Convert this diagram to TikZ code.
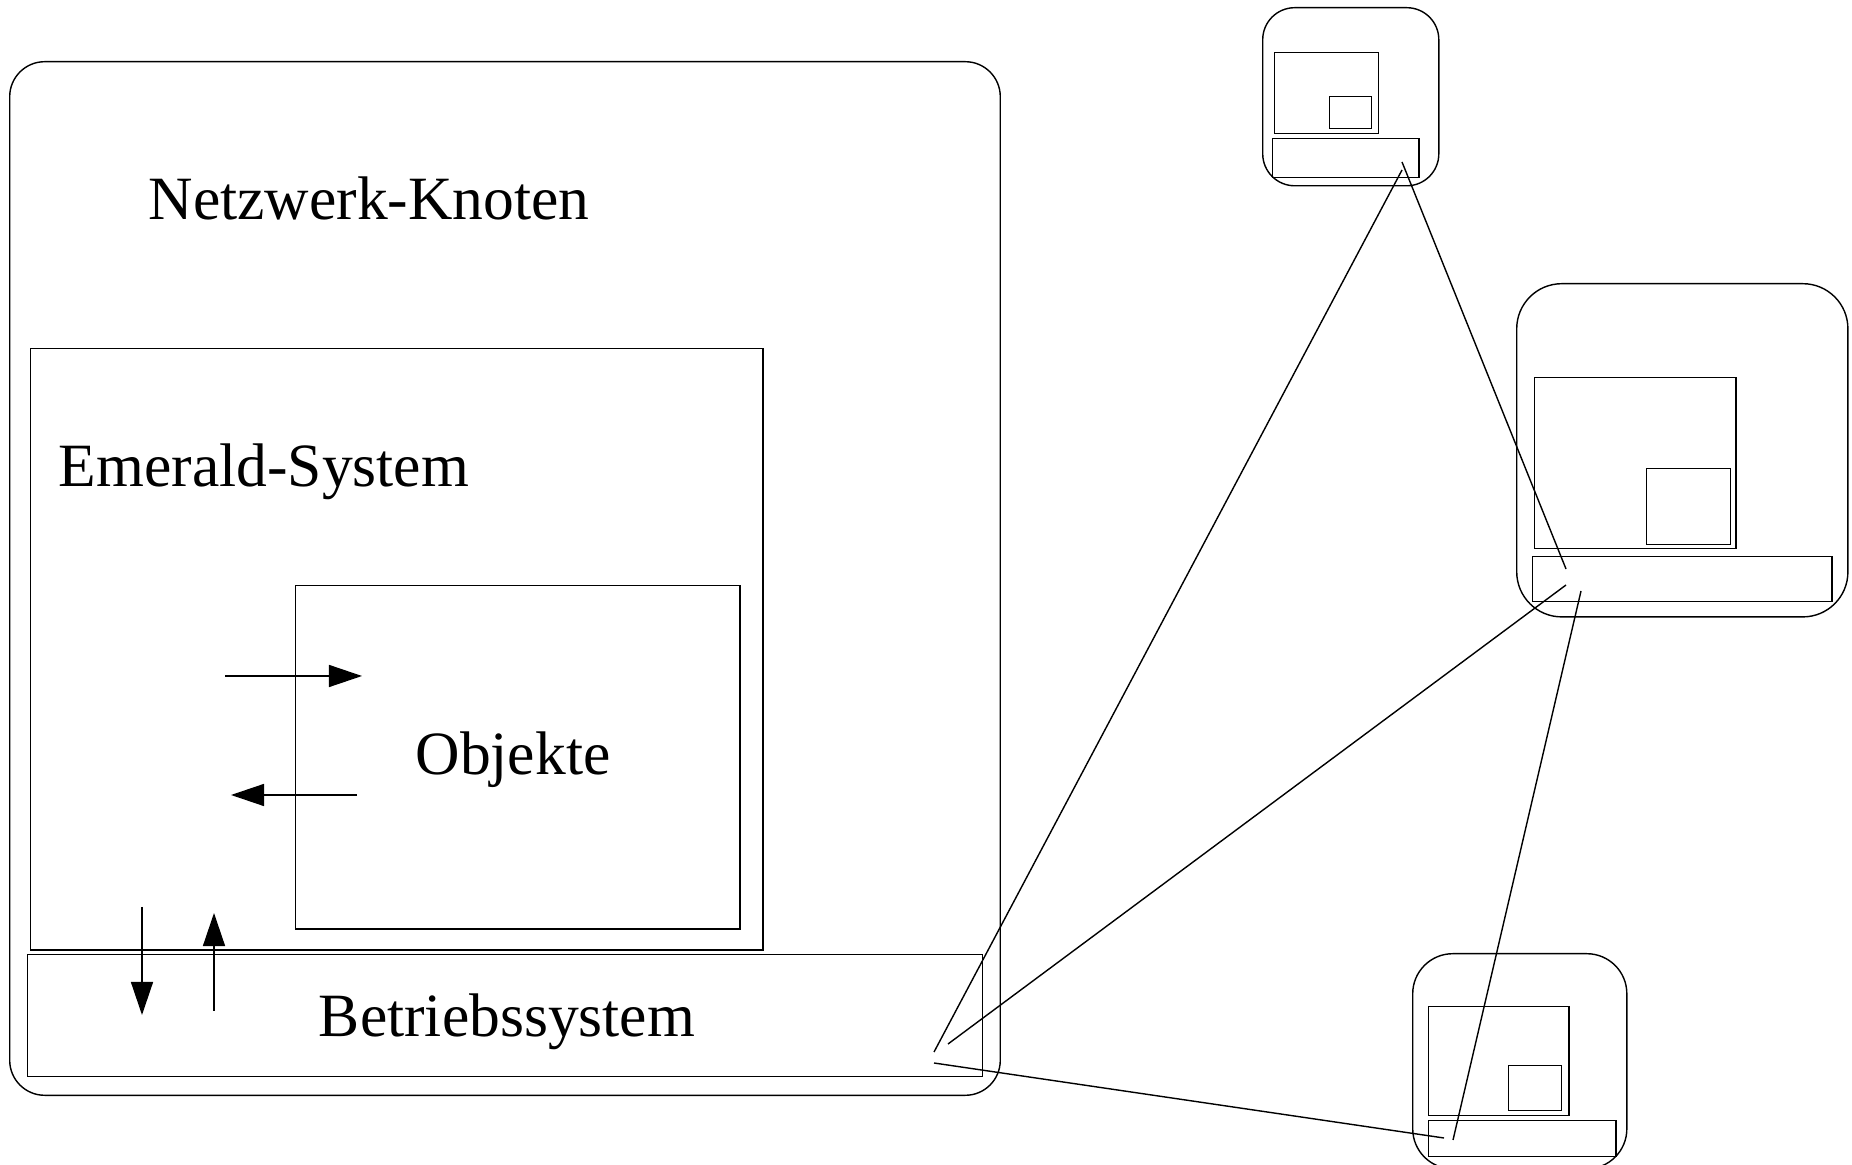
\documentclass[tikz,border=0pt]{standalone}
\usepackage{fontspec}
\setmainfont{Liberation Serif}
\usetikzlibrary{arrows.meta,positioning}

\tikzset{
  box/.style={draw, rectangle, anchor=north west, inner sep=0pt, line width=0.4pt},
  host/.style={box, rounded corners=#1},
  txt/.style={anchor=base, inner sep=0pt, font=\fontsize{17.5}{21}\selectfont},
  msg/.style={-{Triangle[length=3.3mm,width=2.2mm]}, line width=0.4pt},
  wire/.style={line width=0.4pt}
}

\begin{document}
\begin{tikzpicture}[x=0.01cm,y=-0.01cm]

    \useasboundingbox (0,0) rectangle (1852,1165);

    \node [host=3.5mm, minimum width=9.9cm, minimum height=10.33cm] (knoten) at (9,61) {};
    \node [box, minimum width=7.325cm, minimum height=6.01cm] (emerald) at (29.5,348) {};
    \node [box, minimum width=4.44cm, minimum height=3.43cm] (objekte) at (295,585) {};
    \node [box, minimum width=9.54cm, minimum height=1.22cm] (bs) at (27,954) {};

    \node [txt] (t-knoten) at (369,220) {Netzwerk-Knoten};
    \node [txt] (t-emerald) at (264,487) {Emerald-System};
    \node [txt] (t-objekte) at (513,775) {Objekte};
    \node [txt] (t-bs) at (507,1037) {Betriebssystem};

    \coordinate (call-a) at (225,676);
    \coordinate (call-b) at (362,676);
    \coordinate (ret-a) at (357,795);
    \coordinate (ret-b) at (231,795);
    \coordinate (down-a) at (142,907);
    \coordinate (down-b) at (142,1015);
    \coordinate (up-a) at (214,1011);
    \coordinate (up-b) at (214,913);

    \draw [msg] (call-a) -- (call-b);
    \draw [msg] (ret-a) -- (ret-b);
    \draw [msg] (down-a) -- (down-b);
    \draw [msg] (up-a) -- (up-b);

    \node [host=3.2mm, minimum width=1.76cm, minimum height=1.78cm] (h1) at (1262,7) {};
    \node [box, minimum width=1.04cm, minimum height=0.81cm] (h1-sys) at (1274,52) {};
    \node [box, minimum width=0.42cm, minimum height=0.32cm] (h1-obj) at (1329,96) {};
    \node [box, minimum width=1.46cm, minimum height=0.39cm] (h1-bs) at (1272,138) {};

    \node [host=4.5mm, minimum width=3.31cm, minimum height=3.33cm] (h2) at (1516,283) {};
    \node [box, minimum width=2.01cm, minimum height=1.71cm] (h2-sys) at (1534,377) {};
    \node [box, minimum width=0.84cm, minimum height=0.76cm] (h2-obj) at (1646,468) {};
    \node [box, minimum width=2.99cm, minimum height=0.45cm] (h2-bs) at (1532,556) {};

    \node [host=4mm, minimum width=2.14cm, minimum height=2.15cm] (h3) at (1412,953) {};
    \node [box, minimum width=1.40cm, minimum height=1.09cm] (h3-sys) at (1428,1006) {};
    \node [box, minimum width=0.53cm, minimum height=0.45cm] (h3-obj) at (1508,1065) {};
    \node [box, minimum width=1.87cm, minimum height=0.36cm] (h3-bs) at (1428,1120) {};

    \coordinate (bs-a) at (934,1052);
    \coordinate (bs-b) at (948,1044);
    \coordinate (bs-c) at (934,1063);
    \coordinate (h1-a) at (1402,170);
    \coordinate (h1-b) at (1402,162);
    \coordinate (h2-a) at (1566,569);
    \coordinate (h2-b) at (1566,585);
    \coordinate (h2-c) at (1581,591);
    \coordinate (h3-a) at (1444,1138);
    \coordinate (h3-b) at (1453,1140);

    \draw [wire] (bs-a) -- (h1-a);
    \draw [wire] (h1-b) -- (h2-a);
    \draw [wire] (bs-b) -- (h2-b);
    \draw [wire] (h2-c) -- (h3-b);
    \draw [wire] (bs-c) -- (h3-a);
\end{tikzpicture}
\end{document}
